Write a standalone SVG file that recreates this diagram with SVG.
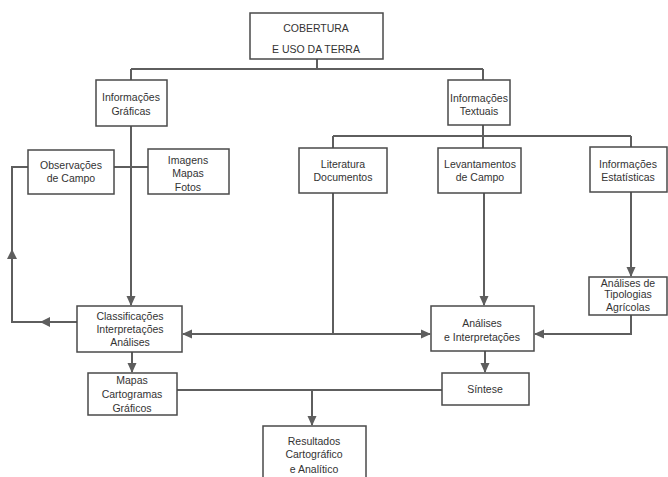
<svg xmlns="http://www.w3.org/2000/svg" width="668" height="477" viewBox="0 0 668 477">
<style>
.box{fill:#fff;stroke:#4a4a4a;stroke-width:1.5}
.t{font-family:"Liberation Sans",Arial,sans-serif;font-size:10.5px;fill:#333;text-anchor:middle}
.c{fill:none;stroke:#5e5e5e;stroke-width:2}
.ah{fill:#5e5e5e}
</style>
<defs>
<marker id="arr" markerUnits="userSpaceOnUse" markerWidth="10" markerHeight="10" refX="9" refY="5" orient="auto">
<path d="M0,0.5 L10,5 L0,9.5 Z" fill="#5e5e5e"/>
</marker>
</defs>
<rect width="668" height="477" fill="#fff"/>
<g id="connectors">
<path class="c" d="M317,59 V69 M131,69 H483 M131,69 V80 M483,69 V80"/>
<path class="c" d="M131,126 V305" marker-end="url(#arr)"/>
<path class="c" d="M114,167 H148"/>
<path class="c" d="M77,322 H12 V167 H28"/>
<polygon class="ah" points="40,322 50,317 50,327"/>
<polygon class="ah" points="12,249 7,259 17,259"/>
<path class="c" d="M483,125 V136 M333,136 H631 M333,136 V148 M483,136 V148 M631,136 V147"/>
<path class="c" d="M333,193 V334"/>
<path class="c" d="M333,334 H183" marker-end="url(#arr)"/>
<path class="c" d="M333,334 H430" marker-end="url(#arr)"/>
<path class="c" d="M484,193 V305" marker-end="url(#arr)"/>
<path class="c" d="M631,192 V276" marker-end="url(#arr)"/>
<path class="c" d="M631,315 V334 H535" marker-end="url(#arr)"/>
<path class="c" d="M485,351 V372" marker-end="url(#arr)"/>
<path class="c" d="M132,352 V372" marker-end="url(#arr)"/>
<path class="c" d="M177,390 H442"/>
<path class="c" d="M312,390 V425" marker-end="url(#arr)"/>
</g>
<g id="cobertura"><rect class="box" x="250" y="13" width="133" height="46"/>
<text class="t" x="316" y="32">COBERTURA</text><text class="t" x="316" y="53">E USO DA TERRA</text></g>
<g id="info-graficas"><rect class="box" x="96" y="80" width="71" height="46"/>
<text class="t" x="131" y="101">Informações</text><text class="t" x="131" y="115">Gráficas</text></g>
<g id="observacoes"><rect class="box" x="28" y="150" width="86" height="44"/>
<text class="t" x="71" y="169">Observações</text><text class="t" x="71" y="182">de Campo</text></g>
<g id="imagens"><rect class="box" x="148" y="149" width="81" height="45"/>
<text class="t" x="188" y="164">Imagens</text><text class="t" x="188" y="177">Mapas</text><text class="t" x="188" y="191">Fotos</text></g>
<g id="info-textuais"><rect class="box" x="448" y="80" width="62" height="45"/>
<text class="t" x="479" y="102">Informações</text><text class="t" x="479" y="115">Textuais</text></g>
<g id="literatura"><rect class="box" x="299" y="148" width="88" height="45"/>
<text class="t" x="343" y="168">Literatura</text><text class="t" x="343" y="181">Documentos</text></g>
<g id="levantamentos"><rect class="box" x="438" y="148" width="83" height="45"/>
<text class="t" x="480" y="168">Levantamentos</text><text class="t" x="480" y="181">de Campo</text></g>
<g id="estatisticas"><rect class="box" x="590" y="147" width="77" height="45"/>
<text class="t" x="628" y="168">Informações</text><text class="t" x="628" y="181">Estatísticas</text></g>
<g id="tipologias"><rect class="box" x="589" y="277" width="78" height="38"/>
<text class="t" x="628" y="287">Análises de</text><text class="t" x="628" y="298">Tipologias</text><text class="t" x="628" y="311">Agrícolas</text></g>
<g id="classificacoes"><rect class="box" x="77" y="306" width="105" height="46"/>
<text class="t" x="130" y="320">Classificações</text><text class="t" x="130" y="333">Interpretações</text><text class="t" x="130" y="346">Análises</text></g>
<g id="analises"><rect class="box" x="431" y="306" width="103" height="45"/>
<text class="t" x="482" y="327">Análises</text><text class="t" x="482" y="341">e Interpretações</text></g>
<g id="mapas"><rect class="box" x="88" y="373" width="89" height="42"/>
<text class="t" x="132" y="384">Mapas</text><text class="t" x="132" y="398">Cartogramas</text><text class="t" x="132" y="412">Gráficos</text></g>
<g id="sintese"><rect class="box" x="442" y="373" width="87" height="32"/>
<text class="t" x="485" y="393">Síntese</text></g>
<g id="resultados"><rect class="box" x="263" y="426" width="103" height="60"/>
<text class="t" x="314" y="445">Resultados</text><text class="t" x="314" y="458">Cartográfico</text><text class="t" x="314" y="473">e Analítico</text></g>
</svg>
